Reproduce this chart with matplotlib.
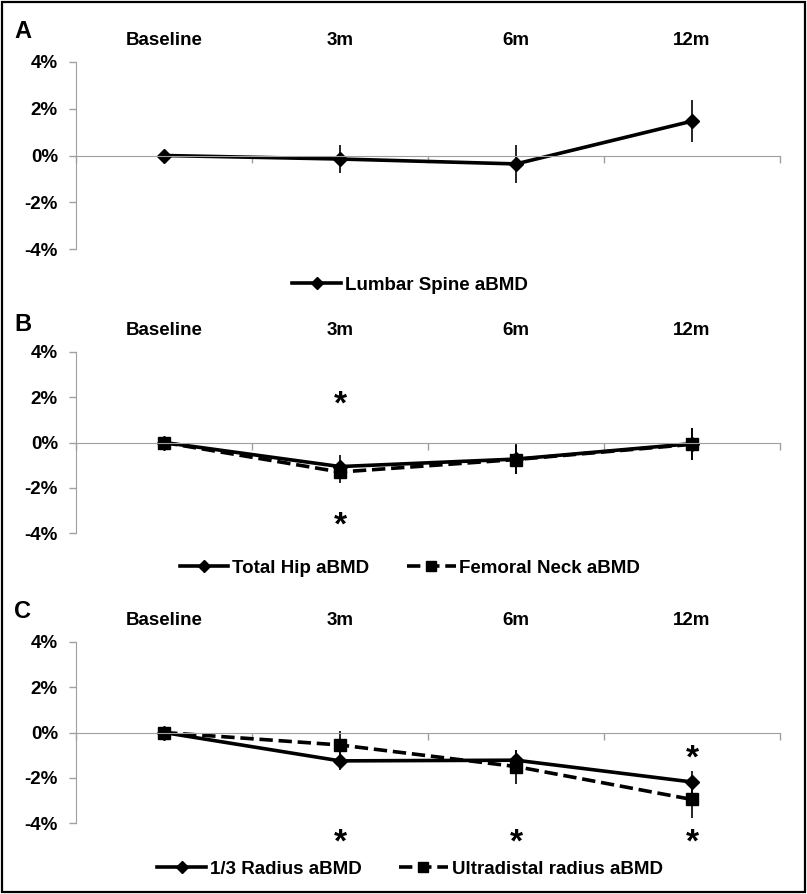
import numpy as np
import matplotlib
matplotlib.use("Agg")
import matplotlib.pyplot as plt
import matplotlib.transforms as mtransforms
from matplotlib.patches import Rectangle

plt.rcParams['font.family'] = ['Liberation Sans', 'DejaVu Sans']
plt.rcParams['font.weight'] = 'bold'

# data (percent change from baseline)
timepoints = ['Baseline', '3m', '6m', '12m']
yticks = [-4, -2, 0, 2, 4]
ytick_labels = ['-4%', '-2%', '0%', '2%', '4%']

spine = [0.0, -0.15, -0.36, 1.47]
spine_err = [0.0, 0.61, 0.81, 0.90]

hip = [0.0, -1.06, -0.73, -0.05]
hip_err = [0.0, 0.50, 0.65, 0.70]
neck = [0.0, -1.30, -0.75, -0.08]
neck_err = [0.0, 0.50, 0.65, 0.70]

radius13 = [0.0, -1.25, -1.22, -2.18]
radius13_err = [0.0, 0.40, 0.45, 0.50]
udradius = [0.0, -0.55, -1.50, -2.95]
udradius_err = [0.0, 0.60, 0.75, 0.80]

# asterisks: (time index, y position in %)
stars_b = [(1, 1.9), (1, -3.4)]
stars_c = [(1, -4.6), (2, -4.6), (3, -4.6), (3, -0.9)]

W, H = 807, 894
fig = plt.figure(figsize=(W / 100, H / 100), dpi=100)

gray = '#a0a0a0'
FS = 13.5
x = np.arange(len(timepoints))


def px_box(top, bottom, left=76, right=780):
    return [left / W, 1 - bottom / H, (right - left) / W, (bottom - top) / H]


def setup(ax, letter, letter_base):
    ax.set_xlim(-0.5, len(timepoints) - 0.5)
    ax.set_ylim(-4, 4)
    for s in ['top', 'right']:
        ax.spines[s].set_visible(False)
    ax.spines['left'].set_color(gray)
    ax.spines['bottom'].set_color(gray)
    ax.spines['bottom'].set_position(('data', 0))
    ax.set_yticks(yticks)
    ax.set_yticklabels(ytick_labels, fontsize=FS, fontweight='bold')
    ax.tick_params(axis='y', colors=gray, labelcolor='black', length=5, width=1, pad=8)
    ax.set_xticks(np.arange(-0.5, len(timepoints), 1.0))
    ax.set_xticklabels([])
    ax.tick_params(axis='x', colors=gray, length=5, width=1)
    top = ax.secondary_xaxis('top')
    top.set_xticks(x)
    top.set_xticklabels(timepoints, fontsize=FS, fontweight='bold')
    top.tick_params(length=0, pad=9.5)
    top.spines['top'].set_visible(False)
    fig.text(14 / W, 1 - letter_base / H, letter, fontsize=17,
             fontweight='bold', ha='left', va='baseline')


def series(ax, y, err, ls, marker, ms, label):
    ax.errorbar(x, y, yerr=err, fmt='none', ecolor='black', elinewidth=1.2,
                capsize=0, clip_on=False)
    ax.plot(x, y, color='black', lw=2.6, ls=ls, marker=marker, ms=ms,
            label=label, clip_on=False)


def star(ax, pts):
    shift = mtransforms.offset_copy(ax.transData, fig=fig, x=0, y=-6, units='dots')
    for i, yv in pts:
        ax.text(i, yv, '*', ha='center', va='center', fontsize=24,
                fontweight='bold', clip_on=False, transform=shift)


def legend(ax, yfig):
    ax.legend(loc='center', bbox_to_anchor=(0.508, yfig), bbox_transform=fig.transFigure,
              ncol=2, frameon=False, handlelength=2.6,
              columnspacing=2.0, handletextpad=0.2, markerscale=0.8,
              prop={'weight': 'bold', 'size': FS})


# Panel A
axA = fig.add_axes(px_box(62, 249))
setup(axA, 'A', 38)
series(axA, spine, spine_err, '-', 'D', 7.5, 'Lumbar Spine aBMD')
legend(axA, 1 - 285 / H)

# Panel B
axB = fig.add_axes(px_box(351.7, 533.3))
setup(axB, 'B', 331)
series(axB, hip, hip_err, '-', 'D', 7.5, 'Total Hip aBMD')
series(axB, neck, neck_err, '--', 's', 9, 'Femoral Neck aBMD')
star(axB, stars_b)
legend(axB, 1 - 568 / H)

# Panel C
axC = fig.add_axes(px_box(641.7, 823.3))
setup(axC, 'C', 618)
series(axC, radius13, radius13_err, '-', 'D', 7.5, '1/3 Radius aBMD')
series(axC, udradius, udradius_err, '--', 's', 9, 'Ultradistal radius aBMD')
star(axC, stars_c)
legend(axC, 1 - 869 / H)

fig.add_artist(Rectangle((2 / W, 2 / H), 1 - 4 / W, 1 - 4 / H, transform=fig.transFigure,
                         fill=False, edgecolor='black', lw=1.6))

fig.savefig('out.png', dpi=100)
